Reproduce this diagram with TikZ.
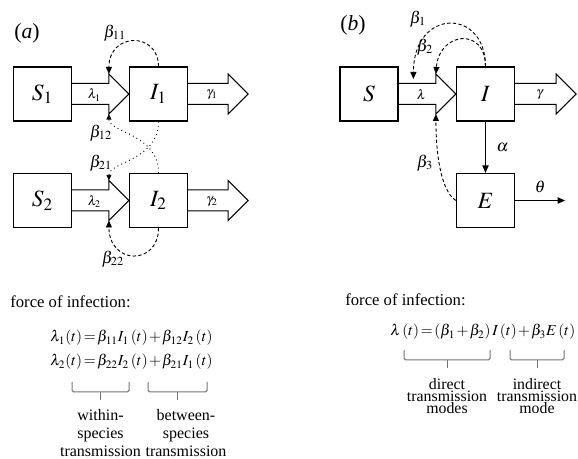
\documentclass[tikz,border=0pt]{standalone}
\usepackage{mathptmx}
\usepackage{fontspec}
\setmainfont{Liberation Serif}
\usetikzlibrary{calc,arrows.meta}
\tikzset{
  box/.style={draw,line width=0.7pt,minimum width=34.8pt,minimum height=32.4pt,inner sep=0pt,font=\fontsize{14}{16}\selectfont},
  blk/.style={draw,line width=0.6pt,line join=miter},
  dsh/.style={-{Triangle[length=4.2pt,width=3.6pt]},line width=0.55pt,dash pattern=on 2pt off 1.4pt},
  dtt/.style={-{Triangle[length=3.4pt,width=3pt]},line width=0.55pt,dotted},
  ar/.style={-{Triangle[length=4.5pt,width=3.8pt]},line width=0.6pt},
  brk/.style={draw=black!55,line width=0.6pt,rounded corners=1pt},
  lbl/.style={inner sep=1pt},
  eqn/.style={anchor=west,inner sep=0pt,font=\fontsize{9.2}{11}\selectfont,execute at begin node={\thickmuskip=2mu\medmuskip=1.5mu}},
  txt/.style={align=center,inner sep=0pt,font=\fontsize{9.6}{11}\selectfont},
  txtb/.style={align=center,inner sep=0pt,font=\fontsize{9.5}{7.3}\selectfont}
}
% fat arrow: from anchor, tip, label
\newcommand{\fatar}[3]{%
  \draw[blk] ($(#1)+(0,-10.5)$) -- ($(#2)+(-20,-10.5)$) -- ($(#2)+(-20,-20)$) -- (#2)
    -- ($(#2)+(-20,20)$) -- ($(#2)+(-20,10.5)$) -- ($(#1)+(0,10.5)$);
  \node[font=\footnotesize,inner sep=0pt] at ($(#1)!0.5!(#2)+(-6,1)$) {#3};}
% grey bracket under a term
\newcommand{\brkt}[3]{\draw[brk] (#1,#3) -- (#1,#3+10) -- (#2,#3+10) -- (#2,#3);
  \draw[brk] ({(#1+#2)/2},#3+10) -- ++(0,8.5);}
\begin{document}
\begin{tikzpicture}[x=0.6pt,y=-0.6pt]
\useasboundingbox (0,0) rectangle (578,459);
% (a) two host species
\node[font=\fontsize{13}{15}\selectfont] (tla) at (27,33) {(\textit{a})};
\node[box] (S1) at (42.5,94) {$S_1$};
\node[box] (I1) at (158.5,94) {$I_1$};
\node[box] (S2) at (42.5,200.5) {$S_2$};
\node[box] (I2) at (158.5,200.5) {$I_2$};
\coordinate (g1) at ($(I1.east)+(60,0)$);
\coordinate (g2) at ($(I2.east)+(60,0)$);
\coordinate (h1t) at ($(I1.west)+(-20,-20)$);
\coordinate (h1b) at ($(I1.west)+(-20,20)$);
\coordinate (h2t) at ($(I2.west)+(-20,-20)$);
\coordinate (h2b) at ($(I2.west)+(-20,20)$);
\fatar{S1.east}{I1.west}{$\lambda_1$}
\fatar{I1.east}{g1}{$\gamma_1$}
\fatar{S2.east}{I2.west}{$\lambda_2$}
\fatar{I2.east}{g2}{$\gamma_2$}
\draw[dsh] (I1.north) .. controls +(0,-35) and +(0,-42) .. (h1t);
\draw[dtt] (I2.north) .. controls +(0,-39) and +(0,18.5) .. (h1b);
\draw[dtt] (I1.south) .. controls +(0,39) and +(0,-18.5) .. (h2t);
\draw[dsh] (I2.south) .. controls +(0,38) and +(0,44.5) .. (h2b);
\node[lbl] (l11) at (115,33) {$\beta_{11}$};
\node[lbl] (l12) at (101,133) {$\beta_{12}$};
\node[lbl] (l21) at (101,163) {$\beta_{21}$};
\node[lbl] (l22) at (113,259) {$\beta_{22}$};
% (b) one host with environment
\node[font=\fontsize{13}{15}\selectfont] (tlb) at (353,25) {(\textit{b})};
\node[box] (S) at (369,94) {$S$};
\node[box] (I) at (485.5,94) {$I$};
\node[box] (E) at (485.5,200.5) {$E$};
\coordinate (g) at ($(I.east)+(61,0)$);
\coordinate (th) at ($(E.east)+(50,0)$);
\coordinate (ht) at ($(I.west)+(-20,-20)$);
\coordinate (hb) at ($(I.west)+(-20,20)$);
\coordinate (b1e) at ($(I.west)+(-42.5,-15)$);
\fatar{S.east}{I.west}{$\lambda$}
\fatar{I.east}{g}{$\gamma$}
\draw[ar] (I) -- (E) node[midway,right=3pt] {$\alpha$};
\draw[ar] (E) -- (th) node[midway,above=1pt] {$\theta$};
\draw[dsh] (I.north) .. controls +(0,-59) and +(0,-71) .. (b1e);
\draw[dsh] (I.north) .. controls +(0,-40) and +(3,-42) .. (ht);
\draw[dsh] (E.west) .. controls +(-16,-10) and +(0,36) .. (hb);
\node[lbl] (l1) at (418,19) {$\beta_1$};
\node[lbl] (l2) at (425,47) {$\beta_2$};
\node[lbl] (l3) at (425,163) {$\beta_3$};
% force of infection, (a)
\node[anchor=west,inner sep=0pt] (foia) at (10,302) {force of infection:};
\node[eqn] (eqa1) at (50,338) {$\lambda_1(t)=\beta_{11}I_1\,(t)+\beta_{12}I_2\,(t)$};
\node[eqn] (eqa2) at (50,362) {$\lambda_2(t)=\beta_{22}I_2\,(t)+\beta_{21}I_1\,(t)$};
\brkt{72}{129}{382}
\brkt{148}{207}{382}
\node[txt] (wth) at (100.5,433) {within-\\species\\transmission};
\node[txt] (btw) at (186,433) {between-\\species\\transmission};
% force of infection, (b)
\node[anchor=west,inner sep=0pt] (foib) at (345,300) {force of infection:};
\node[eqn] (eqb) at (390,332) {$\lambda\,(t)=(\beta_1+\beta_2)\,I\,(t)+\beta_3E\,(t)$};
\brkt{404}{490}{350}
\brkt{510}{564}{350}
\node[txtb] (dir) at (447,396) {direct\\transmission\\modes};
\node[txtb] (ind) at (537,396) {indirect\\transmission\\mode};
\end{tikzpicture}
\end{document}
